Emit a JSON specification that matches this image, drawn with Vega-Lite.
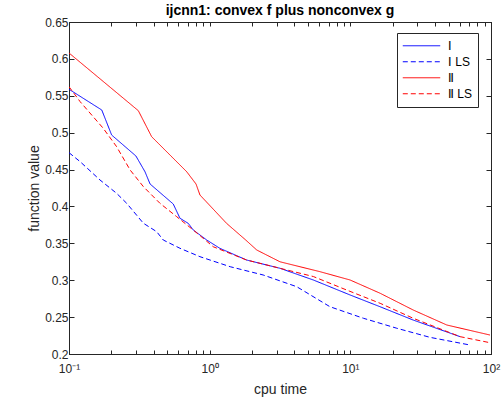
{
  "$schema": "https://vega.github.io/schema/vega-lite/v6.json",
  "width": 422,
  "height": 332,
  "autosize": {"type": "none"},
  "padding": {"left": 69, "top": 22, "right": 12, "bottom": 50},
  "background": "white",
  "config": {
    "font": "Liberation Sans",
    "view": {"stroke": "#262626", "strokeWidth": 1},
    "axis": {"labelFont": "Liberation Sans", "titleFont": "Liberation Sans", "labelColor": "#262626", "titleColor": "#262626", "domainColor": "#262626", "tickColor": "#262626", "grid": false, "labelFontSize": 12, "titleFontSize": 14, "titleFontWeight": "normal"}
  },
  "title": {"text": "ijcnn1: convex f plus nonconvex g", "fontSize": 14, "fontWeight": "bold", "font": "Liberation Sans", "color": "#000000", "offset": -2},
  "data": {"values": [
    {"s": "Ⅱ", "t": 0.1, "v": 0.608},
    {"s": "Ⅱ", "t": 0.311, "v": 0.5298},
    {"s": "Ⅱ", "t": 0.387, "v": 0.4945},
    {"s": "Ⅱ", "t": 0.687, "v": 0.447},
    {"s": "Ⅱ", "t": 0.8, "v": 0.4304},
    {"s": "Ⅱ", "t": 0.853, "v": 0.4155},
    {"s": "Ⅱ", "t": 1.32, "v": 0.377},
    {"s": "Ⅱ", "t": 1.78, "v": 0.3555},
    {"s": "Ⅱ", "t": 2.16, "v": 0.341},
    {"s": "Ⅱ", "t": 3.16, "v": 0.325},
    {"s": "Ⅱ", "t": 6.08, "v": 0.3116},
    {"s": "Ⅱ", "t": 9.96, "v": 0.3003},
    {"s": "Ⅱ", "t": 16.3, "v": 0.2823},
    {"s": "Ⅱ", "t": 28.0, "v": 0.2596},
    {"s": "Ⅱ", "t": 48.5, "v": 0.2393},
    {"s": "Ⅱ", "t": 98.4, "v": 0.2257},
    {"s": "Ⅰ", "t": 0.1, "v": 0.5588},
    {"s": "Ⅰ", "t": 0.171, "v": 0.5307},
    {"s": "Ⅰ", "t": 0.201, "v": 0.4968},
    {"s": "Ⅰ", "t": 0.299, "v": 0.4684},
    {"s": "Ⅰ", "t": 0.347, "v": 0.447},
    {"s": "Ⅰ", "t": 0.377, "v": 0.4304},
    {"s": "Ⅰ", "t": 0.551, "v": 0.4033},
    {"s": "Ⅰ", "t": 0.615, "v": 0.384},
    {"s": "Ⅰ", "t": 0.705, "v": 0.377},
    {"s": "Ⅰ", "t": 0.765, "v": 0.368},
    {"s": "Ⅰ", "t": 0.953, "v": 0.3545},
    {"s": "Ⅰ", "t": 1.18, "v": 0.3433},
    {"s": "Ⅰ", "t": 1.83, "v": 0.3274},
    {"s": "Ⅰ", "t": 3.16, "v": 0.3162},
    {"s": "Ⅰ", "t": 5.46, "v": 0.3003},
    {"s": "Ⅰ", "t": 9.96, "v": 0.28},
    {"s": "Ⅰ", "t": 16.3, "v": 0.264},
    {"s": "Ⅰ", "t": 28.0, "v": 0.246},
    {"s": "Ⅰ", "t": 60.3, "v": 0.2235},
    {"s": "Ⅱ LS", "t": 0.1, "v": 0.5623},
    {"s": "Ⅱ LS", "t": 0.12, "v": 0.542},
    {"s": "Ⅱ LS", "t": 0.175, "v": 0.506},
    {"s": "Ⅱ LS", "t": 0.218, "v": 0.481},
    {"s": "Ⅱ LS", "t": 0.272, "v": 0.4494},
    {"s": "Ⅱ LS", "t": 0.338, "v": 0.4268},
    {"s": "Ⅱ LS", "t": 0.443, "v": 0.4043},
    {"s": "Ⅱ LS", "t": 0.583, "v": 0.3861},
    {"s": "Ⅱ LS", "t": 0.765, "v": 0.368},
    {"s": "Ⅱ LS", "t": 0.9, "v": 0.3568},
    {"s": "Ⅱ LS", "t": 1.06, "v": 0.3454},
    {"s": "Ⅱ LS", "t": 1.83, "v": 0.3274},
    {"s": "Ⅱ LS", "t": 3.16, "v": 0.3162},
    {"s": "Ⅱ LS", "t": 5.46, "v": 0.305},
    {"s": "Ⅱ LS", "t": 9.42, "v": 0.2867},
    {"s": "Ⅱ LS", "t": 16.3, "v": 0.2687},
    {"s": "Ⅱ LS", "t": 28.0, "v": 0.2484},
    {"s": "Ⅱ LS", "t": 60.3, "v": 0.2235},
    {"s": "Ⅱ LS", "t": 98.4, "v": 0.2153},
    {"s": "Ⅰ LS", "t": 0.1, "v": 0.4729},
    {"s": "Ⅰ LS", "t": 0.12, "v": 0.4607},
    {"s": "Ⅰ LS", "t": 0.166, "v": 0.4359},
    {"s": "Ⅰ LS", "t": 0.218, "v": 0.4178},
    {"s": "Ⅰ LS", "t": 0.257, "v": 0.4043},
    {"s": "Ⅰ LS", "t": 0.338, "v": 0.3772},
    {"s": "Ⅰ LS", "t": 0.42, "v": 0.3658},
    {"s": "Ⅰ LS", "t": 0.468, "v": 0.3545},
    {"s": "Ⅰ LS", "t": 0.615, "v": 0.3433},
    {"s": "Ⅰ LS", "t": 0.853, "v": 0.3319},
    {"s": "Ⅰ LS", "t": 1.4, "v": 0.3183},
    {"s": "Ⅰ LS", "t": 2.4, "v": 0.3071},
    {"s": "Ⅰ LS", "t": 4.16, "v": 0.2912},
    {"s": "Ⅰ LS", "t": 7.16, "v": 0.2641},
    {"s": "Ⅰ LS", "t": 12.4, "v": 0.2484},
    {"s": "Ⅰ LS", "t": 21.4, "v": 0.2349},
    {"s": "Ⅰ LS", "t": 36.8, "v": 0.2226},
    {"s": "Ⅰ LS", "t": 70.8, "v": 0.2122}
  ]},
  "resolve": {"axis": {"x": "independent", "y": "independent"}},
  "layer": [
    {
      "mark": {"type": "line", "strokeWidth": 1, "clip": true},
      "encoding": {
        "x": {"field": "t", "type": "quantitative", "title": "cpu time",
          "scale": {"type": "log", "domain": [0.1, 100], "nice": false},
          "axis": {"orient": "bottom", "values": [0.1,0.2,0.3,0.4,0.5,0.6,0.7,0.8,0.9,1,2,3,4,5,6,7,8,9,10,20,30,40,50,60,70,80,90,100],
            "labelExpr": "datum.value == 0.1 ? '10⁻¹' : datum.value == 1 ? '10⁰' : datum.value == 10 ? '10¹' : datum.value == 100 ? '10²' : ''",
            "labelOverlap": false, "labelFlush": false, "tickSize": -4, "labelPadding": 13, "titlePadding": 8}},
        "y": {"field": "v", "type": "quantitative", "title": "function value",
          "scale": {"domain": [0.2, 0.65], "nice": false, "zero": false},
          "axis": {"orient": "left", "values": [0.2,0.25,0.3,0.35,0.4,0.45,0.5,0.55,0.6,0.65], "format": ".2~f", "tickSize": -5, "labelPadding": 6, "titlePadding": 3}},
        "color": {"field": "s", "type": "nominal", "title": null,
          "scale": {"domain": ["Ⅰ", "Ⅰ LS", "Ⅱ", "Ⅱ LS"], "range": ["#0000ff", "#0000ff", "#ff0000", "#ff0000"]},
          "legend": {"orient": "none", "legendX": 328, "legendY": 11, "strokeColor": "#262626", "fillColor": "white", "padding": 5,
            "symbolType": "stroke", "symbolSize": 1400, "symbolStrokeWidth": 1, "clipHeight": 15.5, "rowPadding": 0,
            "labelFontSize": 12, "labelColor": "#000000", "labelFont": "Liberation Sans", "labelOffset": 7}},
        "strokeDash": {"field": "s", "type": "nominal", "title": null,
          "scale": {"domain": ["Ⅰ", "Ⅰ LS", "Ⅱ", "Ⅱ LS"], "range": [[1, 0], [5, 3], [1, 0], [5, 3]]}}
      }
    },
    {
      "mark": {"type": "line", "strokeOpacity": 0},
      "encoding": {
        "x": {"field": "t", "type": "quantitative",
          "axis": {"orient": "top", "values": [0.1,0.2,0.3,0.4,0.5,0.6,0.7,0.8,0.9,1,2,3,4,5,6,7,8,9,10,20,30,40,50,60,70,80,90,100], "labels": false, "title": null, "tickSize": -4}},
        "y": {"field": "v", "type": "quantitative",
          "axis": {"orient": "right", "values": [0.2,0.25,0.3,0.35,0.4,0.45,0.5,0.55,0.6,0.65], "labels": false, "title": null, "tickSize": -5}},
        "detail": {"field": "s"}
      }
    }
  ]
}
